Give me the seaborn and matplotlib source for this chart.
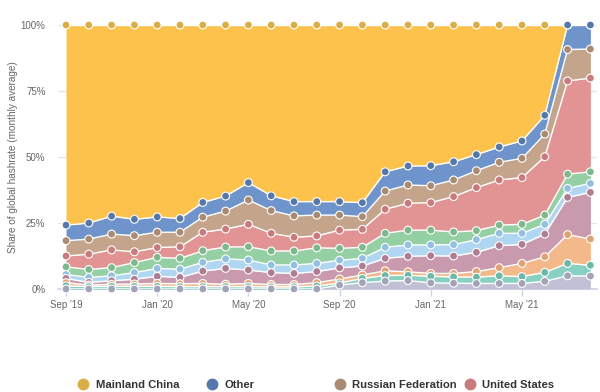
import numpy as np
import pandas as pd
import matplotlib.pyplot as plt
import seaborn as sns
from matplotlib.lines import Line2D

# monthly share of global hashrate (%), Sep 2019 - Aug 2021
months = ["Sep '19", "Oct '19", "Nov '19", "Dec '19", "Jan '20", "Feb '20",
          "Mar '20", "Apr '20", "May '20", "Jun '20", "Jul '20", "Aug '20",
          "Sep '20", "Oct '20", "Nov '20", "Dec '20", "Jan '21", "Feb '21",
          "Mar '21", "Apr '21", "May '21", "Jun '21", "Jul '21", "Aug '21"]

china = [75.8, 75.0, 72.4, 73.6, 72.7, 73.3, 67.2, 64.8, 59.7, 64.7, 66.9, 66.9,
         66.9, 67.3, 55.6, 53.4, 53.3, 51.8, 49.1, 46.2, 43.9, 34.2, 0, 0]
other = [5.9, 6.1, 6.8, 6.2, 5.8, 5.2, 5.6, 5.7, 6.6, 5.6, 5.4, 5.1,
         5.1, 5.3, 7.3, 7.2, 7.6, 6.9, 6.1, 5.8, 6.6, 7.1, 9.3, 9.1]
russia = [5.8, 5.7, 6.0, 6.1, 5.8, 5.5, 5.7, 6.8, 9.2, 8.6, 8.1, 7.9,
          5.7, 4.8, 6.9, 6.9, 6.4, 6.3, 6.4, 6.7, 7.3, 8.6, 11.9, 11.0]
usa = [4.1, 5.8, 6.7, 4.1, 3.7, 4.4, 7.0, 6.8, 8.5, 6.7, 5.2, 4.5,
       6.9, 6.8, 9.1, 10.2, 10.4, 13.4, 16.3, 17.1, 17.7, 22.1, 35.3, 35.5]
malaysia = [2.9, 3.0, 3.1, 3.8, 4.2, 4.1, 4.4, 4.5, 5.0, 5.3, 5.3, 5.9,
            4.5, 4.2, 5.3, 5.6, 5.6, 4.8, 3.4, 3.1, 3.4, 3.5, 5.4, 4.4]
iran = [1.5, 1.9, 1.9, 2.5, 3.0, 3.1, 3.3, 3.6, 3.8, 2.9, 3.2, 3.1,
        2.9, 2.9, 4.2, 4.3, 4.1, 4.3, 4.8, 4.7, 4.2, 3.7, 3.4, 3.4]
kazakhstan = [1.6, 1.0, 1.3, 1.8, 2.7, 2.4, 4.7, 6.0, 5.1, 4.5, 4.2, 4.2,
              4.2, 3.4, 4.7, 5.9, 6.7, 6.6, 7.3, 8.3, 7.2, 8.6, 14.1, 17.7]
canada = [1.2, 0.6, 0.8, 0.9, 1.1, 1.1, 1.2, 0.9, 1.2, 0.9, 0.9, 1.3,
          1.5, 1.3, 1.8, 1.3, 1.1, 1.3, 2.1, 3.1, 5.0, 5.9, 10.9, 9.9]
germany = [1.2, 0.9, 1.0, 1.0, 1.0, 0.9, 0.9, 0.9, 0.9, 0.8, 0.8, 1.1,
           0.8, 1.6, 2.1, 2.0, 2.5, 2.4, 2.4, 2.9, 2.6, 3.4, 4.7, 4.1]
ireland = [0, 0, 0, 0, 0, 0, 0, 0, 0, 0, 0, 0,
           1.5, 2.4, 3.0, 3.2, 2.3, 2.2, 2.1, 2.1, 2.1, 2.9, 5.0, 4.9]

names = ["Mainland China", "Other", "Russian Federation", "United States",
         "Malaysia", "Iran", "Kazakhstan", "Canada", "Germany", "Ireland"]
series = [china, other, russia, usa, malaysia, iran, kazakhstan, canada, germany, ireland]

fill_colors = ["#fcc24c", "#6f94cb", "#c4a58c", "#e29494", "#94d0a3",
               "#b0d6f2", "#c99aad", "#f3b98b", "#88d0c2", "#c2c0d4"]
marker_colors = ["#d9ae46", "#5577aa", "#a88b72", "#c97a7c", "#7db98c",
                 "#93bfe0", "#b07c92", "#e0a272", "#6cb8a8", "#a4a2b8"]

sns.set_theme(style="white")
plt.rcParams['font.family'] = ['Liberation Sans', 'DejaVu Sans']

fig = plt.figure(figsize=(6, 3.92), dpi=100)
ax = fig.add_axes([58/600, 103/392, 539/600, 264/392])

x = np.arange(len(months))

# stack from the bottom (last series) upward
ax.stackplot(x, *series[::-1], colors=fill_colors[::-1], lw=0, zorder=2)
tops = np.cumsum(np.array(series[::-1]), axis=0)[::-1]

for top in tops:
    ax.plot(x, top, color="white", lw=1.0, zorder=3)

rows = []
for name, top in zip(names, tops):
    for xi, t in zip(x, top):
        rows.append({"x": xi, "top": t, "series": name})
df = pd.DataFrame(rows)
sns.scatterplot(data=df, x="x", y="top", hue="series", hue_order=names,
                palette=dict(zip(names, marker_colors)), s=32,
                edgecolor="white", linewidth=0.8, legend=False,
                zorder=4, clip_on=False, ax=ax)

ax.set_xlim((58 - 66) / 22.8, (597 - 66) / 22.8)
ax.set_ylim(0, 100)
ax.set_yticks([0, 25, 50, 75, 100])
ax.set_yticklabels(["0%", "25%", "50%", "75%", "100%"])
ax.set_xticks(x[::4])
ax.set_xticklabels(months[::4])
ax.yaxis.grid(True, color="#e6e6e6", lw=1)
ax.set_axisbelow(True)

for s in ["top", "right", "left"]:
    ax.spines[s].set_visible(False)
ax.spines["bottom"].set_color("#ccd6eb")
ax.spines["bottom"].set_zorder(1)

ax.tick_params(axis="x", bottom=True, length=5, width=1, color="#ccd6eb",
               labelsize=7, labelcolor="#666666", pad=3)
ax.tick_params(axis="y", length=0, labelsize=7, labelcolor="#666666", pad=9)

ax.set_xlabel("")
ax.set_ylabel("Share of global hashrate (monthly average)", fontsize=7.2,
              color="#666666")
ax.yaxis.set_label_coords(-(58 - 18) / 539, 0.5)

# legend row, kept just inside the bottom edge
legend_x = [83, 212, 340, 470]
for name, mc, lx in zip(names[:4], marker_colors[:4], legend_x):
    h = Line2D([], [], marker="o", ls="", markersize=7.5, color=mc,
               markeredgecolor=mc)
    leg = fig.legend(handles=[h], labels=[name], loc="center left",
                     bbox_to_anchor=((lx - 5.5) / 600, 1 - 384.5 / 392),
                     frameon=False, borderpad=0, borderaxespad=0,
                     handlelength=1.0, handletextpad=0.6,
                     prop={"size": 8.1, "weight": "bold"})
    for t in leg.get_texts():
        t.set_color("#333333")

fig.savefig("out.png", dpi=100)
